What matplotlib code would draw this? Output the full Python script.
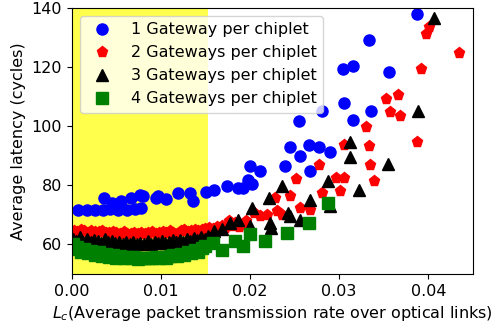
import numpy as np
import matplotlib
matplotlib.use("Agg")
import matplotlib.pyplot as plt

# average latency vs. optical link load, one series per gateway count
x_g1 = [0.0007, 0.0017, 0.0026, 0.0035, 0.0043, 0.0052, 0.0062, 0.0071, 0.0078,
        0.0036, 0.0045, 0.0055, 0.0066, 0.0077, 0.0080, 0.0095, 0.0097, 0.0106,
        0.0119, 0.0133, 0.0136, 0.0151, 0.0159,
        0.0174, 0.0187, 0.0192, 0.0198, 0.0202, 0.0200, 0.0211, 0.0239, 0.0245,
        0.0256, 0.0267, 0.0266, 0.0277, 0.0290, 0.0255, 0.0281, 0.0306, 0.0316,
        0.0336, 0.0304, 0.0315, 0.0356, 0.0334, 0.0387]
y_g1 = [71.8, 71.6, 71.8, 71.6, 71.9, 71.8, 71.7, 71.9, 72.4,
        75.8, 74.2, 74.6, 75.8, 76.9, 76.3, 75.8, 76.3, 75.5,
        77.4, 77.4, 74.6, 77.6, 78.6,
        79.7, 79.1, 79.1, 81.9, 80.3, 86.4, 84.7, 86.4, 92.9,
        89.8, 84.7, 93.8, 92.9, 91.2, 101.9, 105.0, 107.7, 102.1,
        105.2, 119.4, 120.3, 118.2, 129.2, 138.0]

x_g2 = [0.0002, 0.0006, 0.0010, 0.0014, 0.0018, 0.0022, 0.0026, 0.0030, 0.0034, 0.0038,
        0.0042, 0.0046, 0.0050, 0.0054, 0.0058, 0.0062, 0.0066, 0.0070, 0.0074, 0.0078,
        0.0082, 0.0086, 0.0090, 0.0094, 0.0098, 0.0102, 0.0106, 0.0110, 0.0114, 0.0118,
        0.0122, 0.0126, 0.0130, 0.0134, 0.0138, 0.0142, 0.0146, 0.0150, 0.0154, 0.0158,
        0.0163, 0.0168, 0.0172, 0.0176, 0.0180, 0.0183, 0.0188, 0.0192, 0.0196, 0.0204,
        0.0211, 0.0219, 0.0228, 0.0230, 0.0236, 0.0245, 0.0252, 0.0256, 0.0267, 0.0277,
        0.0281, 0.0297, 0.0301, 0.0305, 0.0305, 0.0330, 0.0333, 0.0335, 0.0339, 0.0353,
        0.0357, 0.0366, 0.0368, 0.0387, 0.0392, 0.0397, 0.0401, 0.0435]
y_g2 = [64.6, 64.2, 64.9, 64.4, 64.0, 64.7, 64.3, 64.1, 64.6, 64.0,
        63.8, 64.3, 63.9, 63.6, 64.2, 63.7, 63.5, 64.0, 63.6, 63.8,
        63.4, 63.9, 64.1, 63.6, 64.0, 64.3, 63.8, 64.5, 64.0, 63.6,
        64.4, 64.8, 64.2, 64.6, 65.0, 64.4, 64.9, 65.3, 65.6, 65.1,
        65.8, 66.4, 65.5, 67.9, 66.2, 67.3, 66.0, 66.8, 68.0, 70.7,
        69.6, 70.1, 75.8, 71.2, 70.1, 76.3, 82.0, 72.4, 71.8, 87.0,
        77.5, 82.5, 78.0, 82.5, 93.8, 99.7, 93.2, 87.0, 81.4, 109.3,
        104.8, 110.4, 103.3, 94.7, 119.3, 131.2, 133.7, 124.7]

x_g3 = [0.0001, 0.0005, 0.0009, 0.0013, 0.0017, 0.0021, 0.0025, 0.0029, 0.0033, 0.0037,
        0.0041, 0.0045, 0.0049, 0.0053, 0.0057, 0.0061, 0.0065, 0.0069, 0.0073, 0.0077,
        0.0081, 0.0085, 0.0089, 0.0093, 0.0097, 0.0101, 0.0105, 0.0109, 0.0113, 0.0117,
        0.0121, 0.0125, 0.0129, 0.0133, 0.0137, 0.0141, 0.0145, 0.0149, 0.0153,
        0.0159, 0.0168, 0.0178, 0.0187, 0.0200, 0.0202, 0.0221, 0.0222, 0.0224, 0.0236,
        0.0243, 0.0245, 0.0256, 0.0267, 0.0288, 0.0290, 0.0312, 0.0312, 0.0322, 0.0355,
        0.0388, 0.0407]
y_g3 = [62.0, 61.3, 62.4, 61.0, 61.8, 60.9, 61.6, 61.2, 60.6, 61.7,
        60.8, 61.2, 60.4, 61.0, 60.2, 60.8, 60.0, 60.9, 60.3, 60.6,
        60.1, 61.1, 60.2, 60.7, 60.5, 61.3, 60.4, 61.0, 61.5, 60.7,
        61.4, 61.0, 62.0, 61.2, 62.3, 61.6, 62.4, 62.0, 63.0,
        64.5, 65.1, 67.3, 68.4, 66.2, 72.4, 75.8, 67.3, 65.6, 79.7,
        70.7, 69.6, 68.4, 75.2, 81.4, 72.9, 89.6, 94.6, 78.5, 87.3,
        105.0, 136.5]

x_g4 = [0.0001, 0.0003, 0.0006, 0.0010, 0.0014, 0.0018, 0.0022, 0.0026, 0.0030, 0.0034,
        0.0038, 0.0042, 0.0046, 0.0050, 0.0054, 0.0058, 0.0062, 0.0066, 0.0070, 0.0074,
        0.0078, 0.0082, 0.0086, 0.0090, 0.0094, 0.0098, 0.0102, 0.0106, 0.0110, 0.0114,
        0.0118, 0.0122, 0.0126, 0.0130, 0.0134, 0.0138, 0.0142, 0.0146, 0.0150,
        0.0158, 0.0168, 0.0183, 0.0192, 0.0200, 0.0217, 0.0241, 0.0266, 0.0288]
y_g4 = [60.2, 58.4, 59.3, 57.6, 58.6, 57.0, 57.9, 56.4, 57.3, 56.0,
        56.8, 55.8, 56.3, 55.6, 56.0, 55.4, 55.9, 55.3, 55.7, 55.2,
        55.6, 55.3, 55.6, 55.3, 55.7, 55.4, 55.8, 55.5, 56.1, 56.4,
        56.2, 56.9, 56.6, 57.4, 57.1, 58.0, 57.6, 58.8, 59.6,
        60.4, 58.3, 61.1, 59.4, 63.4, 61.1, 64.0, 67.3, 74.1]

low_load_edge = 0.0153

fig, ax = plt.subplots(figsize=(4.92, 3.33), dpi=100)
plt.subplots_adjust(left=0.146, right=0.961, top=0.976, bottom=0.177)

ax.axvspan(0, low_load_edge, color='yellow', alpha=0.7, lw=0, zorder=0)

ax.plot(x_g1, y_g1, 'o', color='blue', markersize=8, linestyle='none', label='1 Gateway per chiplet')
ax.plot(x_g2, y_g2, 'p', color='red', markersize=8, linestyle='none', label='2 Gateways per chiplet')
ax.plot(x_g3, y_g3, '^', color='black', markersize=8, linestyle='none', label='3 Gateways per chiplet')
ax.plot(x_g4, y_g4, 's', color='green', markersize=8, linestyle='none', label='4 Gateways per chiplet')

ax.set_xlim(0, 0.045)
ax.set_ylim(50, 140)
ax.set_xticks([0.00, 0.01, 0.02, 0.03, 0.04])
ax.set_yticks([60, 80, 100, 120, 140])
ax.tick_params(labelsize=11.5)

ax.set_xlabel('$L_c$(Average packet transmission rate over optical links)', fontsize=11.5)
ax.set_ylabel('Average latency (cycles)', fontsize=11.5)
ax.legend(loc='upper left', fontsize=11.5)

plt.savefig('out.png', dpi=100)
